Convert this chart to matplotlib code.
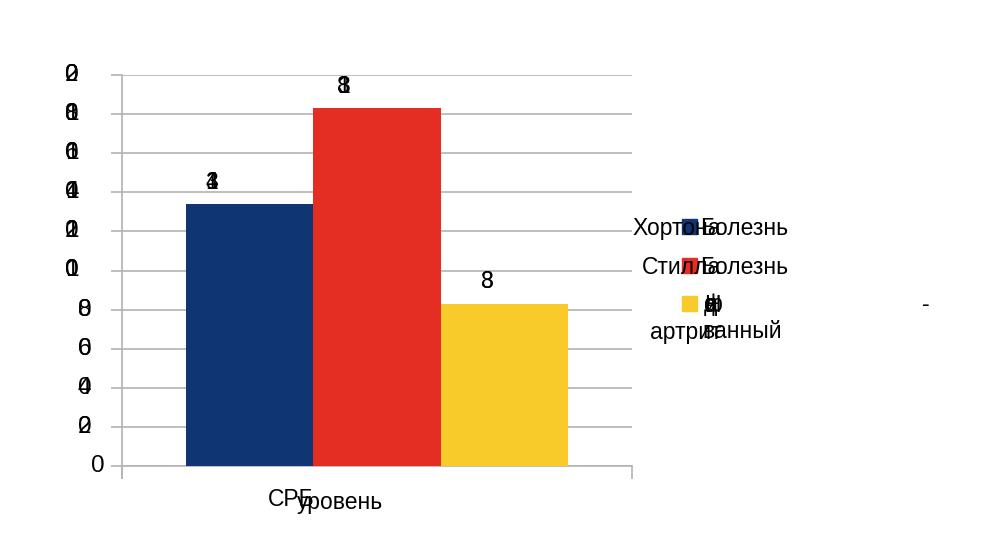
import matplotlib.pyplot as plt
from matplotlib.patches import Rectangle

plt.rcParams['font.family'] = ['Liberation Sans', 'DejaVu Sans']

# уровень СРБ по группам
groups = ["Болезнь Хортона", "Болезнь Стилла", "Недифференцированный артрит"]
values = [134, 183, 83]
colors = ["#0f3572", "#e42e24", "#f8ca2a"]
y_ticks = list(range(0, 201, 20))

W, H = 991, 553
fig = plt.figure(figsize=(W / 100, H / 100), dpi=100)
ax = fig.add_axes([122 / W, 1 - 466 / H, 510 / W, 391 / H])

bw = 0.25
xs = [-bw, 0, bw]
ax.bar(xs, values, width=bw, color=colors, zorder=3)

ax.set_xlim(-0.5, 0.5)
ax.set_ylim(0, 200)
ax.set_yticks(y_ticks)
ax.set_yticklabels([])
ax.set_xticks([-0.5, 0.5])
ax.set_xticklabels([])
ax.grid(axis='y', color='#b3b3b3', lw=1.2, zorder=0)
ax.tick_params(axis='y', length=8, color='#b3b3b3', width=1.2)
ax.tick_params(axis='x', length=9, color='#b3b3b3', width=1.2)
for s in ['top', 'right']:
    ax.spines[s].set_visible(False)
for s in ['left', 'bottom']:
    ax.spines[s].set_color('#b3b3b3')
    ax.spines[s].set_linewidth(1.2)
ax.plot([0, 0], [0, -0.03], transform=ax.transAxes, color='#b3b3b3',
        lw=1.2, clip_on=False)

TXT = '#000000'


def stacked(s, xy, coords, dx, dy, size):
    # каждый символ подписи рисуется в одной и той же точке
    for ch in s:
        ax.annotate(ch, xy=xy, xycoords=coords, xytext=(dx, dy),
                    textcoords='offset pixels', ha='left', va='center',
                    fontsize=size, color=TXT)


# подписи оси Y
char_w = 13
for v in y_ticks:
    s = str(v)
    stacked(s, (0, v), ('axes fraction', 'data'), -18 - char_w * len(s), 0, 17.5)

# подписи значений над столбцами
label_dx = [-44, -40, -24]
for x, v, dx in zip(xs, values, label_dx):
    stacked(str(v), (x, v), 'data', dx, 22, 16.5)


def px(x, y):
    return x / W, 1 - y / H


# легенда
marker_y = [226, 265, 303]
for c, y in zip(colors, marker_y):
    fig.patches.append(Rectangle(px(682, y + 8), 15 / W, 15 / H,
                                 transform=fig.transFigure, color=c))
fs = 16.5
fig.text(*px(632, 229), "Хортона", fontsize=fs, va='center', color=TXT)
fig.text(*px(700, 229), "Болезнь", fontsize=fs, va='center', color=TXT)
fig.text(*px(642, 268), "Стилла", fontsize=fs, va='center', color=TXT)
fig.text(*px(700, 268), "Болезнь", fontsize=fs, va='center', color=TXT)
for ch in "Недиф":
    fig.text(*px(704, 305), ch, fontsize=fs, va='center', color=TXT)
fig.text(*px(922, 305), "-", fontsize=fs, va='center', color=TXT)
fig.text(*px(650, 332), "артрит", fontsize=fs, va='center', color=TXT)
fig.text(*px(702, 332), "ванный", fontsize=fs, va='center', color=TXT)

# подпись оси X
fig.text(*px(268, 500), "СРБ", fontsize=fs, va='center', color=TXT)
fig.text(*px(297, 503), "уровень", fontsize=fs, va='center', color=TXT)

fig.savefig("out.png", dpi=100)
